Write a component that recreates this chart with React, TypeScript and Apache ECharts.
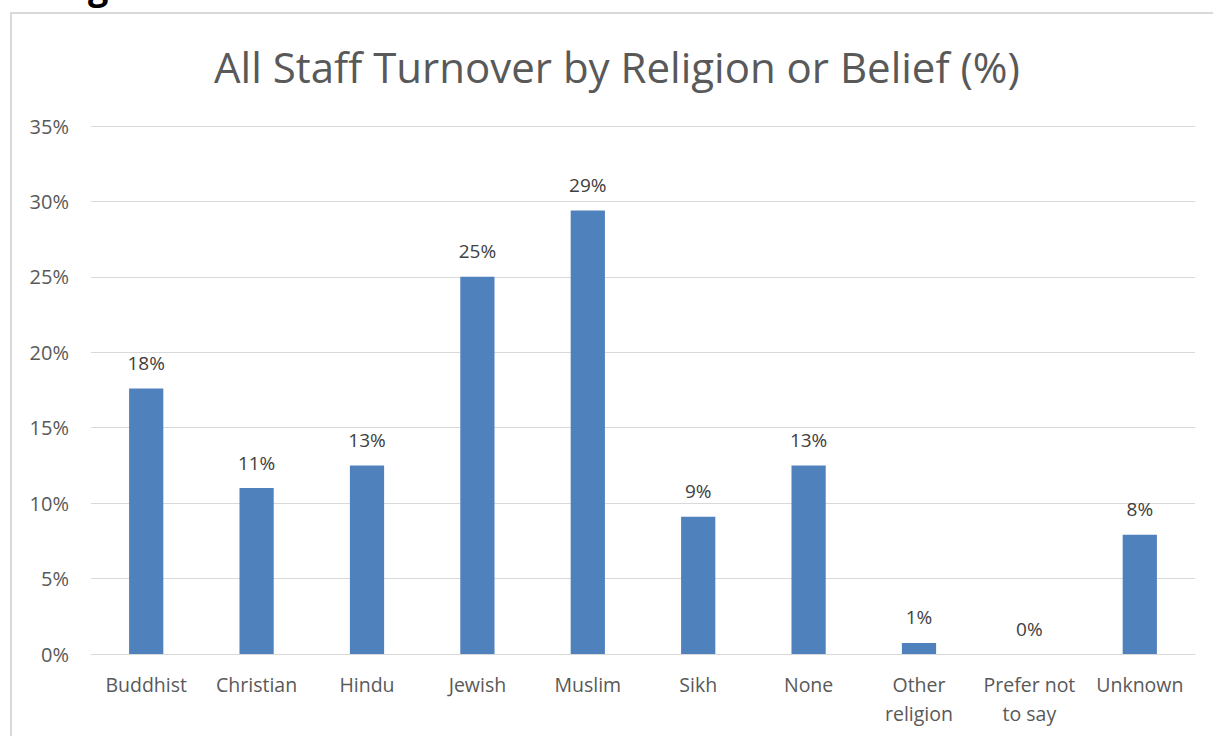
import React, { useEffect, useRef } from "react";
import * as echarts from "echarts";

const categories = ["Buddhist", "Christian", "Hindu", "Jewish", "Muslim", "Sikh", "None", "Other\nreligion", "Prefer not\nto say", "Unknown"];
const turnover = [17.6, 11.0, 12.5, 25.0, 29.4, 9.1, 12.5, 0.73, 0, 7.9];
const titleText = "All Staff Turnover by Religion or Belief (%)";

export default function App() {
  const ref = useRef<HTMLDivElement>(null);
  useEffect(() => {
    const chart = echarts.init(ref.current!, null, { renderer: "svg" });
    const font = "'Open Sans', 'Noto Sans', sans-serif";
    chart.setOption({
      animation: false,
      backgroundColor: "#ffffff",
      title: {
        text: titleText,
        left: 209,
        top: 40,
        textStyle: { fontFamily: font, fontSize: 42, fontWeight: "normal", color: "#595959" },
      },
      graphic: [
        {
          type: "rect",
          shape: { x: 11, y: 13, width: 1240, height: 780 },
          style: { fill: "none", stroke: "#d9d9d9", lineWidth: 2 },
          silent: true,
        },
        {
          type: "text",
          x: 88,
          y: -33,
          style: { text: "g", fontFamily: font, fontSize: 36, fontWeight: "bold", fill: "#000" },
        },
      ],
      grid: { left: 91, right: 18, top: 126, bottom: 82, containLabel: false },
      xAxis: {
        type: "category",
        data: categories,
        axisLine: { lineStyle: { color: "#d9d9d9", width: 1 } },
        axisTick: { show: false },
        axisLabel: { fontFamily: font, fontSize: 19.5, color: "#595959", margin: 16, lineHeight: 29, interval: 0 },
      },
      yAxis: {
        type: "value",
        min: 0,
        max: 35,
        interval: 5,
        axisLine: { show: false },
        axisTick: { show: false },
        splitLine: { lineStyle: { color: "#d9d9d9", width: 1 } },
        axisLabel: { fontFamily: font, fontSize: 20, color: "#595959", margin: 22, formatter: (v: number) => `${v}%` },
      },
      series: [
        {
          type: "bar",
          data: turnover,
          barWidth: "31%",
          itemStyle: { color: "#4f81bd" },
          label: {
            show: true,
            position: "top",
            distance: 16,
            fontFamily: font,
            fontSize: 19,
            color: "#404040",
            formatter: (p: any) => `${Math.round(p.value)}%`,
          },
        },
      ],
    });
    return () => chart.dispose();
  }, []);
  return <div ref={ref} style={{ position: "absolute", left: 0, top: 0, width: 1213, height: 736 }} />;
}
